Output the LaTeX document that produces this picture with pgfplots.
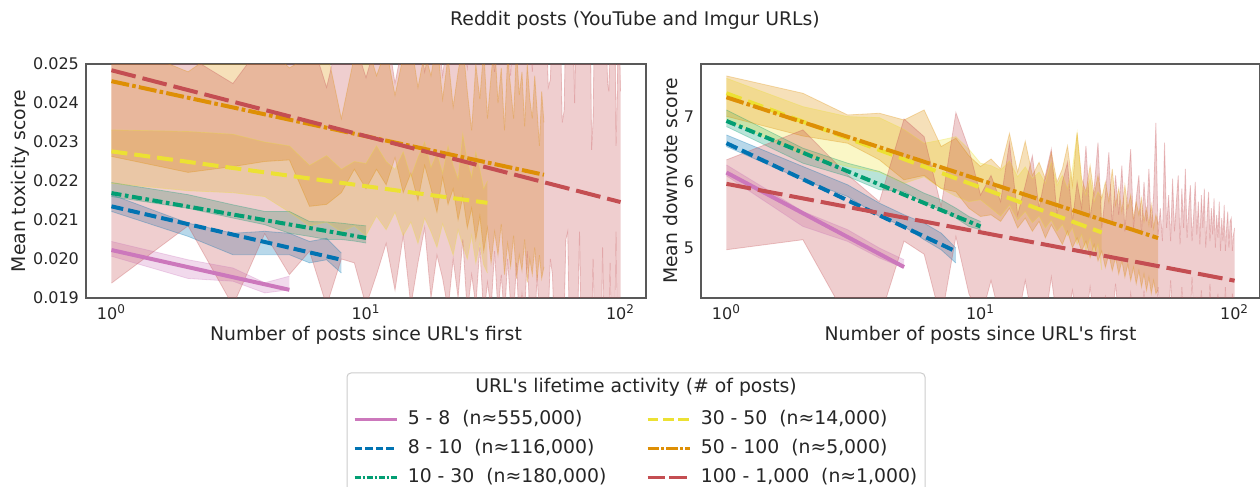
\documentclass[border=0pt]{standalone}
\usepackage{pgfplots}
\pgfplotsset{compat=1.18}
\usepackage{pgfplotstable}
\usepgfplotslibrary{fillbetween}
\usepackage{fontspec}
\setmainfont{DejaVu Sans}

\definecolor{cPink}{HTML}{CC78BC}
\definecolor{cBlue}{HTML}{0173B2}
\definecolor{cGreen}{HTML}{029E73}
\definecolor{cYellow}{HTML}{ECE133}
\definecolor{cOrange}{HTML}{DE8F05}
\definecolor{cRed}{HTML}{C44E52}
\definecolor{txt}{HTML}{262626}

% ---------- toxicity (left) : x, lower / upper edge of the band
\pgfplotstableread{
x lo hi
1 0.02007 0.02045
2 0.01950 0.01998
3 0.01943 0.01977
4 0.01913 0.01939
5 0.01921 0.01956
}\tPinkL
\pgfplotstableread{
x lo hi
1 0.02122 0.02165
2 0.02058 0.02092
3 0.02011 0.02066
4 0.02011 0.02071
5 0.02011 0.02066
6 0.01990 0.02045
7 0.01998 0.02053
8 0.01964 0.02015
}\tBlueL
\pgfplotstableread{
x lo hi
1 0.02160 0.02196
2 0.02130 0.02165
3 0.02105 0.02139
4 0.02088 0.02122
5 0.02066 0.02122
6 0.02058 0.02096
7 0.02050 0.02095
8 0.02050 0.02092
9 0.02046 0.02088
10 0.02041 0.02085
}\tGreenL
\pgfplotstableread{
x lo hi
1 0.02194 0.02331
2 0.02175 0.02327
3 0.02170 0.02320
4 0.02160 0.02300
5 0.02120 0.02290
6 0.02085 0.02240
7 0.02095 0.02265
8 0.02070 0.02230
9 0.02085 0.02250
10 0.02060 0.02245
11 0.02110 0.02290
12 0.02075 0.02250
13 0.02120 0.02230
14 0.02060 0.02275
15 0.02095 0.02210
16 0.02040 0.02260
17 0.02105 0.02300
18 0.02070 0.02235
19 0.02030 0.02270
20 0.02090 0.02220
21 0.02050 0.02290
22 0.02010 0.02240
23 0.02075 0.02205
24 0.02035 0.02320
25 0.02000 0.02250
26 0.02060 0.02210
27 0.01990 0.02275
28 0.02040 0.02230
29 0.01985 0.02180
30 0.01964 0.02200
}\tYellowL
\pgfplotstableread{
x lo hi
1 0.02263 0.02560
2 0.02222 0.02480
3 0.02237 0.02560
4 0.02250 0.02550
5 0.02254 0.02490
6 0.02135 0.02520
7 0.02140 0.02540
8 0.02170 0.02360
9 0.02230 0.02520
10 0.02180 0.02560
11 0.02230 0.02470
12 0.02190 0.02540
13 0.02260 0.02420
14 0.02170 0.02520
15 0.02220 0.02560
16 0.02150 0.02440
17 0.02240 0.02530
18 0.02180 0.02470
19 0.02120 0.02560
20 0.02210 0.02410
21 0.02140 0.02520
22 0.02180 0.02390
23 0.02100 0.02480
24 0.02160 0.02550
25 0.02080 0.02430
26 0.02130 0.02330
27 0.02050 0.02500
28 0.02110 0.02410
29 0.02020 0.02540
30 0.02080 0.02360
31 0.01990 0.02470
32 0.02070 0.02560
33 0.02010 0.02400
34 0.02090 0.02490
35 0.01960 0.02330
36 0.02040 0.02520
37 0.01980 0.02440
38 0.02060 0.02360
39 0.01950 0.02540
40 0.02010 0.02420
41 0.01970 0.02480
42 0.02050 0.02340
43 0.01940 0.02500
44 0.02000 0.02410
45 0.01960 0.02360
46 0.02030 0.02470
47 0.01945 0.02380
48 0.02010 0.02290
49 0.01950 0.02430
50 0.01980 0.02350
}\tOrangeL
\pgfplotstableread{
x lo hi
1 0.01938 0.02530
2 0.02085 0.02520
3 0.01880 0.02450
4 0.02065 0.02560
5 0.01960 0.02540
6 0.02020 0.02580
7 0.01880 0.02440
8 0.02000 0.02600
9 0.01990 0.02560
10 0.01880 0.02465
11 0.01960 0.02560
12 0.02040 0.02600
13 0.01920 0.02450
14 0.02060 0.02560
15 0.01880 0.02520
16 0.01990 0.02600
17 0.02080 0.02480
18 0.01900 0.02560
19 0.02010 0.02620
20 0.01950 0.02470
21 0.01870 0.02580
22 0.02000 0.02520
23 0.01900 0.02600
24 0.02050 0.02560
25 0.01860 0.02490
26 0.01960 0.02640
27 0.01880 0.02540
28 0.02030 0.02600
29 0.01850 0.02500
30 0.01940 0.02620
31 0.01870 0.02560
32 0.02020 0.02480
33 0.01860 0.02600
34 0.01960 0.02650
35 0.01840 0.02530
36 0.02000 0.02600
37 0.01880 0.02470
38 0.01850 0.02620
39 0.01990 0.02560
40 0.01830 0.02650
41 0.01910 0.02500
42 0.01850 0.02600
43 0.02020 0.02560
44 0.01840 0.02660
45 0.01900 0.02480
46 0.01820 0.02600
47 0.01960 0.02640
48 0.01850 0.02520
49 0.01880 0.02620
50 0.01810 0.02580
51 0.01820 0.02620
52 0.01850 0.02440
53 0.02000 0.02460
54 0.01960 0.02640
55 0.01800 0.02600
56 0.01860 0.02680
57 0.01780 0.02580
58 0.01830 0.02620
59 0.01800 0.02350
60 0.01850 0.02380
61 0.02050 0.02640
62 0.02070 0.02600
63 0.01790 0.02700
64 0.01840 0.02580
65 0.01780 0.02620
66 0.01830 0.02400
67 0.01800 0.02660
68 0.01860 0.02600
69 0.02070 0.02680
70 0.01820 0.02580
71 0.01780 0.02640
72 0.01840 0.02560
73 0.01800 0.02700
74 0.01850 0.02620
75 0.01780 0.02580
76 0.01830 0.02660
77 0.01800 0.02280
78 0.02000 0.02360
79 0.01820 0.02620
80 0.01780 0.02700
81 0.01850 0.02580
82 0.01800 0.02640
83 0.01830 0.02600
84 0.01780 0.02680
85 0.02030 0.02580
86 0.01820 0.02620
87 0.01800 0.02700
88 0.01850 0.02560
89 0.01780 0.02450
90 0.01830 0.02430
91 0.01990 0.02640
92 0.01800 0.02600
93 0.01840 0.02680
94 0.01780 0.02580
95 0.01820 0.02640
96 0.02070 0.02290
97 0.01800 0.02420
98 0.01850 0.02620
99 0.01790 0.02580
100 0.01830 0.02430
}\tRedL

% ---------- downvotes (right)
\pgfplotstableread{
x lo hi
1 6.094 6.261
2 5.323 5.551
3 5.095 5.273
4 4.842 4.994
5 4.690 4.816
}\tPinkR
\pgfplotstableread{
x lo hi
1 6.540 6.717
2 6.033 6.236
3 5.779 5.957
4 5.475 5.678
5 5.323 5.501
6 5.121 5.374
7 4.968 5.222
8 4.766 4.994
}\tBlueR
\pgfplotstableread{
x lo hi
1 6.844 7.097
2 6.286 6.515
3 6.084 6.286
4 5.881 6.160
5 5.856 5.982
6 5.678 5.830
7 5.577 5.729
8 5.450 5.602
9 5.323 5.475
10 5.273 5.399
}\tGreenR
\pgfplotstableread{
x lo hi
1 6.950 7.580
2 6.413 7.148
3 6.236 6.996
4 6.150 6.980
5 5.980 6.800
6 6.080 6.590
7 5.900 6.640
8 5.780 6.690
9 5.700 6.500
10 5.729 6.286
11 5.600 6.250
12 5.480 6.180
13 5.650 6.320
14 5.420 6.080
15 5.550 6.230
16 5.380 6.050
17 5.480 6.150
18 5.300 5.980
19 5.420 6.300
20 5.250 5.950
21 5.350 6.100
22 5.180 5.900
23 5.300 6.200
24 5.050 6.750
25 5.200 5.950
26 4.950 5.800
27 5.150 6.050
28 4.900 5.700
29 5.050 5.850
30 4.660 5.750
}\tYellowR
\pgfplotstableread{
x lo hi
1 7.000 7.615
2 6.700 7.351
3 6.590 7.021
4 6.337 7.047
5 6.033 6.945
6 6.100 7.097
7 5.900 6.540
8 5.850 6.667
9 5.600 6.400
10 5.475 6.236
11 5.500 6.350
12 5.400 6.200
13 5.600 6.740
14 5.300 6.150
15 5.450 6.620
16 5.250 6.100
17 5.400 6.300
18 5.150 6.050
19 5.350 6.450
20 5.200 6.000
21 5.050 6.200
22 5.250 6.550
23 5.000 5.950
24 5.150 6.750
25 4.950 6.050
26 5.100 5.850
27 4.850 6.250
28 5.050 5.800
29 4.800 6.100
30 4.950 5.750
31 4.700 6.000
32 4.900 5.700
33 4.650 6.200
34 4.850 5.650
35 4.600 5.900
36 4.800 5.550
37 4.550 5.950
38 4.750 5.600
39 4.500 5.800
40 4.700 5.450
41 4.450 5.700
42 4.650 5.500
43 4.400 5.750
44 4.600 5.400
45 4.350 5.600
46 4.550 5.350
47 4.300 5.650
48 4.500 5.300
49 4.300 5.500
50 4.360 5.350
}\tOrangeR
\pgfplotstableread{
x lo hi
1 4.968 6.337
2 5.121 6.793
3 3.900 6.109
4 3.900 5.700
5 5.100 6.960
6 4.900 6.690
7 3.900 5.630
8 5.170 7.057
9 4.300 6.500
10 3.900 5.800
11 4.500 6.100
12 3.900 5.700
13 4.200 6.600
14 3.900 5.500
15 4.500 5.950
16 3.900 6.400
17 4.100 5.600
18 3.900 6.100
19 4.550 6.500
20 3.900 5.500
21 4.200 6.000
22 3.900 6.300
23 4.350 5.400
24 3.900 6.000
25 4.100 5.600
26 3.900 6.550
27 4.400 5.450
28 3.900 5.900
29 4.050 6.600
30 3.900 5.300
31 4.250 5.800
32 3.900 6.450
33 3.900 5.350
34 4.450 6.100
35 3.900 5.500
36 4.100 6.250
37 3.900 5.250
38 3.900 5.900
39 4.300 6.500
40 3.900 5.300
41 4.050 5.750
42 3.900 6.100
43 3.900 5.200
44 4.350 6.000
45 3.900 5.400
46 3.900 6.200
47 4.150 5.300
48 3.900 5.800
49 3.900 6.900
50 4.400 5.200
51 3.900 5.600
52 3.900 5.100
53 4.100 6.600
54 3.900 5.300
55 3.900 5.800
56 4.500 5.100
57 3.900 6.050
58 3.900 5.250
59 4.200 5.700
60 3.900 6.100
61 3.900 5.050
62 4.400 5.900
63 3.900 5.300
64 3.900 6.200
65 4.100 5.150
66 3.900 5.600
67 3.900 5.950
68 4.550 5.100
69 3.900 5.500
70 3.900 6.000
71 4.250 5.200
72 3.900 5.700
73 3.900 5.050
74 4.350 5.800
75 3.900 5.300
76 3.900 5.900
77 4.100 5.000
78 3.900 5.500
79 3.900 5.850
80 4.450 5.100
81 3.900 5.600
82 3.900 5.200
83 4.200 5.750
84 3.900 5.000
85 3.900 5.500
86 4.300 5.150
87 3.900 5.700
88 3.900 4.950
89 4.150 5.450
90 3.900 5.100
91 3.900 5.650
92 4.400 4.950
93 3.900 5.300
94 3.900 5.550
95 4.100 5.000
96 3.900 5.400
97 3.900 5.450
98 4.300 4.950
99 3.900 5.200
100 3.900 5.300
}\tRedR

% band: table, colour, unique name
\newcommand{\band}[3]{%
  \addplot[forget plot, draw=#2, draw opacity=0.3, line width=0.4pt, name path=#3lo] table[x=x,y=lo]{#1};
  \addplot[forget plot, draw=#2, draw opacity=0.3, line width=0.4pt, name path=#3hi] table[x=x,y=hi]{#1};
  \addplot[forget plot, fill=#2, fill opacity=0.28, draw=none] fill between[of=#3lo and #3hi];
}

\tikzset{
  lPink/.style={cPink, line width=2pt},
  lBlue/.style={cBlue, line width=2pt, dash pattern=on 6pt off 2.5pt},
  lGreen/.style={cGreen, line width=2pt, dash pattern=on 5pt off 1.8pt on 1.8pt off 1.8pt},
  lYellow/.style={cYellow, line width=2pt, dash pattern=on 8pt off 3.5pt},
  lOrange/.style={cOrange, line width=2pt, dash pattern=on 9pt off 1.6pt on 1.8pt off 1.6pt},
  lRed/.style={cRed, line width=2pt, dash pattern=on 12.5pt off 3.5pt},
}

\begin{document}
\begin{tikzpicture}

\node[font=\fontsize{9.4}{11}\selectfont, text=txt] at (317.5pt,233.5pt) {Reddit posts (YouTube and Imgur URLs)};

\draw[draw=black!20, fill=white, rounded corners=2pt, line width=0.5pt] (173.5pt,57pt) rectangle (462.5pt,-8pt);
\node[font=\fontsize{9.4}{11}\selectfont, text=txt] at (318pt,50pt) {URL\textquotesingle s lifetime activity (\# of posts)};

\begin{axis}[
  scale only axis, anchor=south west,
  at={(43pt,94.5pt)}, width=280pt, height=117pt,
  xmode=log, xmin=0.7943, xmax=125.89,
  xtick={1,10,100},
  xticklabels={10\textsuperscript{0},10\textsuperscript{1},10\textsuperscript{2}},
  xminorticks=false, yminorticks=false,
  major tick length=0pt,
  axis line style={draw=black!65, line width=0.6pt},
  tick label style={font=\fontsize{8}{9.6}\selectfont, text=txt},
  label style={font=\fontsize{9.4}{11}\selectfont, text=txt},
  xlabel={Number of posts since URL\textquotesingle s first},
  xlabel style={at={(axis description cs:0.5,-0.158)}, anchor=center},
  ymin=0.019, ymax=0.025, scaled y ticks=false,
  ytick={0.019,0.020,0.021,0.022,0.023,0.024,0.025},
  yticklabels={0.019,0.020,0.021,0.022,0.023,0.024,0.025},
  ylabel={Mean toxicity score},
  ylabel style={at={(axis description cs:-0.117,0.5)}, anchor=center},
  legend columns=2,
  legend cell align=left,
  legend image code/.code={\draw[#1] (0pt,0pt) -- (21pt,0pt);},
  legend style={at={(0.4768,-0.4786)}, anchor=north west, draw=none, fill=none,
    inner sep=0pt, row sep=5.5pt, font=\fontsize{9.4}{11}\selectfont, text=txt,
    nodes={inner sep=0pt, text height=7pt, text depth=2pt},
    /tikz/every odd column/.append style={column sep=5pt},
    /tikz/every even column/.append style={column sep=20pt}},
]
\band{\tPinkL}{cPink}{pL}
\band{\tBlueL}{cBlue}{bL}
\band{\tGreenL}{cGreen}{gL}
\band{\tYellowL}{cYellow}{yL}
\band{\tOrangeL}{cOrange}{oL}
\band{\tRedL}{cRed}{rL}
\addplot[forget plot, lPink] coordinates {(1,0.02023) (5,0.01921)};
\addplot[forget plot, lBlue] coordinates {(1,0.02135) (8,0.01998)};
\addplot[forget plot, lGreen] coordinates {(1,0.02169) (10,0.02054)};
\addplot[forget plot, lYellow] coordinates {(1,0.02276) (30,0.02144)};
\addplot[forget plot, lOrange] coordinates {(1,0.02456) (50,0.02216)};
\addplot[forget plot, lRed] coordinates {(1,0.02484) (100,0.02146)};

\addlegendimage{cPink, line width=1.2pt}
\addlegendentry{5 - 8\ \ (n≈555,000)}
\addlegendimage{cYellow, line width=1.2pt, dash pattern=on 5.4pt off 2.3pt}
\addlegendentry{30 - 50\ \ (n≈14,000)}
\addlegendimage{cBlue, line width=1.2pt, dash pattern=on 3.8pt off 1.5pt}
\addlegendentry{8 - 10\ \ (n≈116,000)}
\addlegendimage{cOrange, line width=1.2pt, dash pattern=on 5.7pt off 1.2pt on 1.3pt off 1.2pt}
\addlegendentry{50 - 100\ \ (n≈5,000)}
\addlegendimage{cGreen, line width=1.2pt, dash pattern=on 3pt off 1pt on 1pt off 1pt}
\addlegendentry{10 - 30\ \ (n≈180,000)}
\addlegendimage{cRed, line width=1.2pt, dash pattern=on 8.6pt off 2.3pt}
\addlegendentry{100 - 1,000\ \ (n≈1,000)}
\end{axis}

\begin{axis}[
  scale only axis, anchor=south west,
  at={(350.5pt,94.5pt)}, width=279.5pt, height=117pt,
  xmode=log, xmin=0.7943, xmax=125.89,
  xtick={1,10,100},
  xticklabels={10\textsuperscript{0},10\textsuperscript{1},10\textsuperscript{2}},
  xminorticks=false, yminorticks=false,
  major tick length=0pt,
  axis line style={draw=black!65, line width=0.6pt},
  tick label style={font=\fontsize{8}{9.6}\selectfont, text=txt},
  label style={font=\fontsize{9.4}{11}\selectfont, text=txt},
  xlabel={Number of posts since URL\textquotesingle s first},
  xlabel style={at={(axis description cs:0.5,-0.158)}, anchor=center},
  ymin=4.2335, ymax=7.797,
  ytick={5,6,7}, yticklabels={5,6,7},
  ylabel={Mean downvote score},
  ylabel style={at={(axis description cs:-0.055,0.5)}, anchor=center},
]
\band{\tPinkR}{cPink}{pR}
\band{\tBlueR}{cBlue}{bR}
\band{\tGreenR}{cGreen}{gR}
\band{\tYellowR}{cYellow}{yR}
\band{\tOrangeR}{cOrange}{oR}
\band{\tRedR}{cRed}{rR}
\addplot[forget plot, lPink] coordinates {(1,6.144) (5,4.705)};
\addplot[forget plot, lBlue] coordinates {(1,6.591) (8,4.943)};
\addplot[forget plot, lGreen] coordinates {(1,6.930) (10,5.323)};
\addplot[forget plot, lYellow] coordinates {(1,7.351) (30,5.232)};
\addplot[forget plot, lOrange] coordinates {(1,7.290) (50,5.146)};
\addplot[forget plot, lRed] coordinates {(1,5.972) (100,4.497)};
\end{axis}

\pgfresetboundingbox
\useasboundingbox (0pt,0pt) rectangle (630pt,243.5pt);
\end{tikzpicture}
\end{document}
